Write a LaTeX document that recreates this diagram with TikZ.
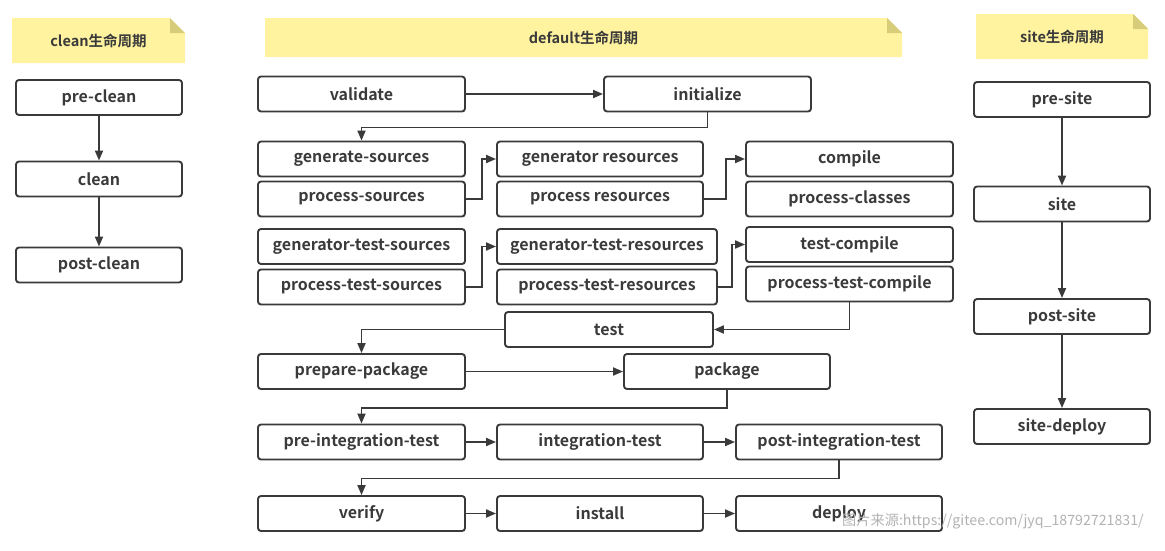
\documentclass[tikz,border=0pt]{standalone}
\usepackage{fontspec}
\setmainfont{Noto Sans CJK SC}[BoldFont={* Bold}]
\usetikzlibrary{arrows.meta,positioning}
\definecolor{linec}{RGB}{58,58,58}
\definecolor{notefill}{RGB}{255,243,160}
\definecolor{notefold}{RGB}{214,204,122}
\definecolor{markc}{RGB}{178,178,178}
\tikzset{
  box/.style={draw=linec,line width=1.9pt,rounded corners=3pt,minimum height=35pt,
    inner sep=0pt,text=linec,font=\bfseries\fontsize{16}{18}\selectfont},
  notetext/.style={inner sep=0pt,text=linec,font=\bfseries\fontsize{14.5}{16}\selectfont},
  arr/.style={draw=linec,line width=1.9pt,-{Triangle[length=10pt,width=8pt]}}
}
% yellow note with folded corner: name, x1, y1, x2, y2, text
\newcommand{\lifenote}[6]{%
  \fill[notefill] (#2,#3) -- (#4-15,#3) -- (#4,#3+15) -- (#4,#5) -- (#2,#5) -- cycle;
  \fill[notefold] (#4-15,#3) -- (#4-15,#3+15) -- (#4,#3+15) -- cycle;
  \node[notetext] (#1) at ({(#2+#4)/2},{(#3+#5)/2}) {#6};
}
\begin{document}
\begin{tikzpicture}[x=1pt,y=-1pt]
\useasboundingbox (0,0) rectangle (1165,550);
% titles
\lifenote{cleannote}{12}{18}{185}{63}{clean生命周期}
\lifenote{defnote}{265}{18}{902}{57}{default生命周期}
\lifenote{sitenote}{976}{14}{1148}{59}{site生命周期}
% clean
\node[box,minimum width=166pt] (precln) at (99,97.5) {pre-clean};
\node[box,minimum width=166pt] (cln) at (99,179) {clean};
\node[box,minimum width=166pt] (postcln) at (99,265) {post-clean};
\draw[arr] (precln) -- (cln);
\draw[arr] (cln) -- (postcln);
% default
\node[box,minimum width=207pt] (validate) at (361.5,94) {validate};
\node[box,minimum width=207pt] (init) at (707.5,94) {initialize};
\node[box,minimum width=207pt] (gensrc) at (361.5,159) {generate-sources};
\node[box,minimum width=207pt] (procsrc) at (361.5,199) {process-sources};
\node[box,minimum width=206pt] (genres) at (600,159) {generator resources};
\node[box,minimum width=206pt] (procres) at (600,199) {process resources};
\node[box,minimum width=207pt] (compile) at (849.5,159) {compile};
\node[box,minimum width=207pt] (proccls) at (849.5,199) {process-classes};
\node[box,minimum width=207pt] (gentestsrc) at (361.5,246.5) {generator-test-sources};
\node[box,minimum width=207pt] (proctestsrc) at (361.5,287) {process-test-sources};
\node[box,minimum width=220pt] (gentestres) at (607,246.5) {generator-test-resources};
\node[box,minimum width=220pt] (proctestres) at (607,287) {process-test-resources};
\node[box,minimum width=207pt] (testcomp) at (849.5,244.5) {test-compile};
\node[box,minimum width=207pt] (proctestcomp) at (849.5,284) {process-test-compile};
\node[box,minimum width=208pt] (test) at (609,329.5) {test};
\node[box,minimum width=207pt] (prepkg) at (361.5,371.5) {prepare-package};
\node[box,minimum width=206pt] (pkg) at (727,371.5) {package};
\node[box,minimum width=207pt] (preint) at (361.5,442) {pre-integration-test};
\node[box,minimum width=206pt] (inttest) at (600,442) {integration-test};
\node[box,minimum width=206pt] (postint) at (839,442) {post-integration-test};
\node[box,minimum width=207pt] (verify) at (361.5,513.5) {verify};
\node[box,minimum width=206pt] (install) at (600,513.5) {install};
\node[box,minimum width=206pt] (deploy) at (839,513.5) {deploy};
\draw[arr] (validate) -- (init);
\draw[arr] (init.south) -- ++(0,15) -| (gensrc.north);
\draw[arr] (procsrc.east) -- ++(16,0) |- (genres.west);
\draw[arr] (procres.east) -- ++(22,0) |- (compile.west);
\draw[arr] (proctestsrc.east) -- ++(16,0) |- (gentestres.west);
\draw[arr] (proctestres.east) -- ++(14,0) |- (testcomp.west);
\draw[arr] (proctestcomp.south) |- (test.east);
\draw[arr] (test.west) -| (prepkg.north);
\draw[arr] (prepkg) -- (pkg);
\draw[arr] (pkg.south) -- ++(0,18) -| (preint.north);
\draw[arr] (preint) -- (inttest);
\draw[arr] (inttest) -- (postint);
\draw[arr] (postint.south) -- ++(0,18) -| (verify.north);
\draw[arr] (verify) -- (install);
\draw[arr] (install) -- (deploy);
% site
\node[box,minimum width=176pt] (presite) at (1062,99.5) {pre-site};
\node[box,minimum width=176pt] (site) at (1062,204) {site};
\node[box,minimum width=176pt] (postsite) at (1062,316.5) {post-site};
\node[box,minimum width=176pt] (sitedeploy) at (1062,426.5) {site-deploy};
\draw[arr] (presite) -- (site);
\draw[arr] (site) -- (postsite);
\draw[arr] (postsite) -- (sitedeploy);
% watermark
\node[anchor=west,inner sep=0pt,text=markc,font=\fontsize{14.2}{16}\selectfont] (mark) at (842,521) {图片来源:https://gitee.com/jyq\_18792721831/};
\end{tikzpicture}
\end{document}
